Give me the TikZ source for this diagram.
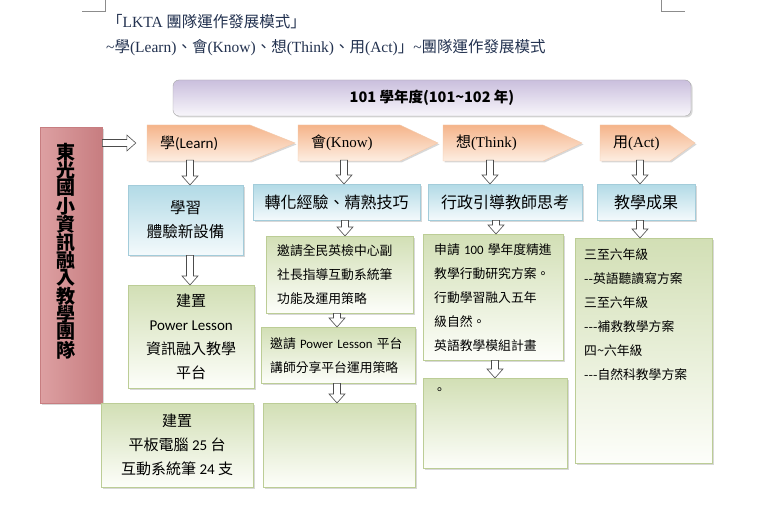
\documentclass[tikz,border=0pt]{standalone}
\usepackage{fontspec}
\setmainfont{Noto Sans CJK TC}
\newfontfamily\serifrm{Liberation Serif}
\newfontfamily\latin{Carlito}
\usepackage{tikz}
\usetikzlibrary{calc}
\usetikzlibrary{shadows}
\definecolor{peachtop}{HTML}{FDEEE2}
\definecolor{peachbot}{HTML}{F5B48A}
\definecolor{peachline}{HTML}{F3C9AA}
\definecolor{bluetop}{HTML}{F4FAFC}
\definecolor{bluebot}{HTML}{B2DAE6}
\definecolor{blueline}{HTML}{A3CCDA}
\definecolor{greentop}{HTML}{FDFEFA}
\definecolor{greenbot}{HTML}{D2DFB5}
\definecolor{greenline}{HTML}{BCCD96}
\definecolor{lilactop}{HTML}{F8F6FB}
\definecolor{lilacbot}{HTML}{CABFDD}
\definecolor{roseleft}{HTML}{DDA0A2}
\definecolor{rosemid}{HTML}{F4DADA}
\definecolor{roseright}{HTML}{C77D80}
\definecolor{titleblue}{HTML}{233250}

% y runs downwards here, so top/bottom colours are given the other way round
\tikzset{
  boxshadow/.style={drop shadow={opacity=0.3,shadow xshift=1.5pt,shadow yshift=-1.5pt}},
  chev/.style={draw=peachline,top color=peachbot,bottom color=peachtop,boxshadow},
  chevtext/.style={minimum height=34,inner sep=0pt,align=left,font=\fontsize{15}{16}\selectfont},
  bluebox/.style={draw=blueline,top color=bluebot,bottom color=bluetop,boxshadow,
    anchor=north west,inner sep=0pt,align=center,font=\fontsize{16}{24}\selectfont},
  greenbox/.style={draw=greenline,top color=greenbot,bottom color=greentop,boxshadow,
    anchor=north west,inner sep=0pt,align=center,font=\fontsize{15}{24}\selectfont},
  smalltext/.style={align=left,font=\fontsize{12.8}{24}\selectfont},
  banner/.style={draw=black!35,top color=lilacbot,bottom color=lilactop,rounded corners=6pt,
    boxshadow,font=\fontsize{14.5}{16}\selectfont\bfseries},
  teambox/.style={draw=roseright,left color=roseleft,middle color=rosemid,right color=roseright,
    boxshadow,anchor=north west},
  teamchar/.style={inner sep=0pt,font=\fontsize{19}{19}\selectfont\bfseries},
  titletext/.style={anchor=west,inner sep=0pt,text=titleblue,font=\fontsize{15.5}{17}\selectfont},
  hollow/.style={draw=black!70,fill=white,line width=0.6pt},
  cropmark/.style={draw=black!45,line width=0.5pt}
}

% chevron: name, left x, slant start, tip x, label
\newcommand\chevron[5]{%
  \path[chev] (#2,125) -- (#3,125) -- (#4,143) -- (#3,161) -- (#2,161) -- cycle;
  \node[chevtext,minimum width=#3-#2,text width=#3-#2-26] (#1) at ({(#2+#3)/2},143) {#5};}
% hollow down arrow at x, from node to node
\newcommand\blockdown[3]{%
  \draw[hollow] let \p1=(#2.south), \p2=(#3.north) in
    (#1pt-3.5pt,\y1) -- (#1pt-3.5pt,\y2+9pt) -- (#1pt-8pt,\y2+9pt) -- (#1pt,\y2)
    -- (#1pt+8pt,\y2+9pt) -- (#1pt+3.5pt,\y2+9pt) -- (#1pt+3.5pt,\y1) -- cycle;}

\begin{document}
\begin{tikzpicture}[x=1pt,y=-1pt]
  \useasboundingbox (0,0) rectangle (761,513);
  \fill[white] (0,0) rectangle (761,513);

  \draw[cropmark] (82,11) -- (105,11) -- (105,0);
  \draw[cropmark] (661,0) -- (661,11) -- (685,11);

  \node[titletext] (title) at (107,22) {「{\serifrm LKTA} 團隊運作發展模式」};
  \node[titletext] (subtitle) at (106,48)
    {{\serifrm\textasciitilde}學{\serifrm(Learn)}、會{\serifrm(Know)}、想{\serifrm(Think)}、用{\serifrm(Act)}」{\serifrm\textasciitilde}團隊運作發展模式};

  \node[banner,minimum width=518,minimum height=36] (year) at (432,98) {101 學年度(101\textasciitilde102 年)};

  % left column
  \node[teambox,minimum width=62,minimum height=276] (team) at (40,127) {};
  \foreach \ch [count=\i from 0] in {東,光,國,小,資,訊,融,入,教,學,團,隊}
    \node[teamchar] (t\i) at (66,152+18*\i) {\ch};

  % stages
  \chevron{learn}{147}{250}{295}{學{\latin(Learn)}}
  \chevron{know}{298}{400}{438}{會{\serifrm(Know)}}
  \chevron{think}{443}{543}{582}{想{\serifrm(Think)}}
  \chevron{act}{600}{670}{695}{用{\serifrm(Act)}}

  \draw[hollow] let \p1=(team.east), \p2=(learn.west) in
    (\x1,\y2+3.5pt) -- (\x2-20pt,\y2+3.5pt) -- (\x2-20pt,\y2+8pt) -- (\x2-11pt,\y2)
    -- (\x2-20pt,\y2-8pt) -- (\x2-20pt,\y2-3.5pt) -- (\x1,\y2-3.5pt) -- cycle;

  % blue row
  \node[bluebox,minimum width=115,minimum height=70,font=\fontsize{15.5}{24}\selectfont] (learnA) at (128,185) {學習\\體驗新設備};
  \node[bluebox,minimum width=167,minimum height=36] (knowA) at (253,184) {轉化經驗、精熟技巧};
  \node[bluebox,minimum width=154,minimum height=36] (thinkA) at (428,184) {行政引導教師思考};
  \node[bluebox,minimum width=98,minimum height=36] (actA) at (597,184) {教學成果};

  % green boxes
  \node[greenbox,minimum width=126,minimum height=103] (learnB) at (128,285) {建置\\{\latin Power Lesson}\\資訊融入教學\\平台};
  \node[greenbox,minimum width=152,minimum height=84] (learnC) at (101,403) {建置\\平板電腦 {\latin 25} 台\\互動系統筆 {\latin 24} 支};

  \node[greenbox,smalltext,minimum width=147,minimum height=77,text width=125] (knowB) at (266,236)
    {邀請全民英檢中心副\\社長指導互動系統筆\\功能及運用策略};
  \node[greenbox,smalltext,minimum width=154,minimum height=56,text width=136] (knowC) at (261,327)
    {邀請 {\latin Power Lesson} 平台\\講師分享平台運用策略};
  \node[greenbox,minimum width=152,minimum height=84] (knowD) at (263,403) {};

  \node[greenbox,smalltext,minimum width=140,minimum height=126,text width=118] (thinkB) at (423,234)
    {申請 {\latin 100} 學年度精進\\教學行動研究方案。\\行動學習融入五年\\級自然。\\英語教學模組計畫};
  \node[greenbox,minimum width=144,minimum height=90] (thinkC) at (423,378) {};
  \node[smalltext,anchor=north west,inner sep=0pt] (dot) at ([shift={(10,10)}]thinkC.north west) {。};

  \node[greenbox,minimum width=137,minimum height=225] (actB) at (575,238) {};
  \node[smalltext,anchor=north west,inner sep=0pt] (actlist) at ([shift={(9,10)}]actB.north west)
    {三至六年級\\-{}-英語聽讀寫方案\\三至六年級\\-{}-{}-補救教學方案\\四\textasciitilde 六年級\\-{}-{}-自然科教學方案};

  % arrows
  \blockdown{190}{learn}{learnA}
  \blockdown{190}{learnA}{learnB}
  \blockdown{344}{know}{knowA}
  \blockdown{345}{knowA}{knowB}
  \blockdown{337}{knowB}{knowC}
  \blockdown{337}{knowC}{knowD}
  \blockdown{490}{think}{thinkA}
  \blockdown{496}{thinkA}{thinkB}
  \blockdown{495}{thinkB}{thinkC}
  \blockdown{640}{act}{actA}
  \blockdown{640}{actA}{actB}
\end{tikzpicture}
\end{document}
